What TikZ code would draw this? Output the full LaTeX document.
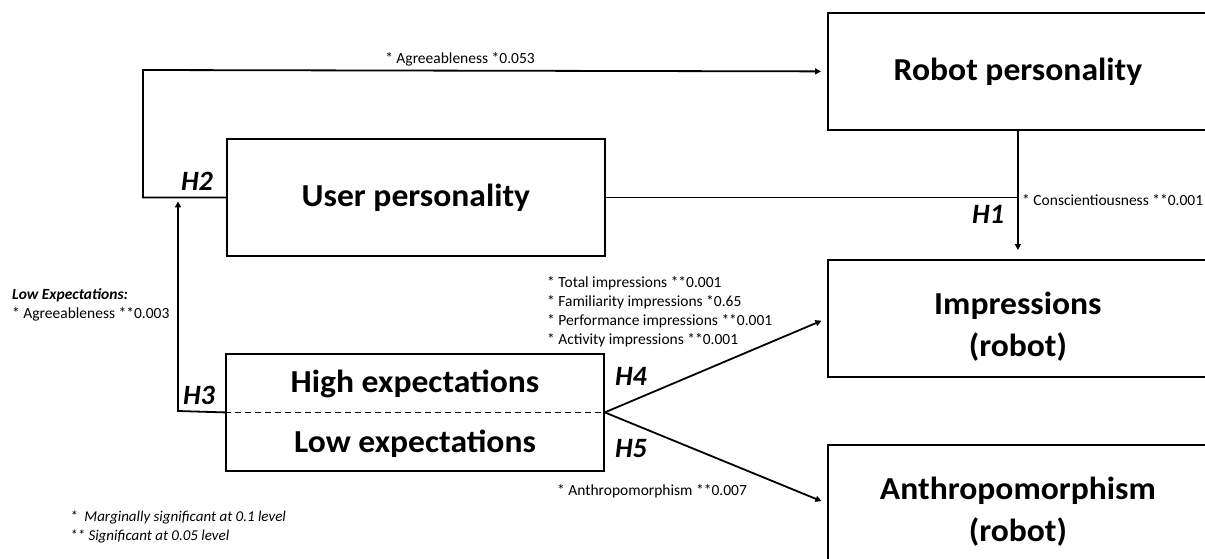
\documentclass[tikz,border=0pt]{standalone}
\usepackage{fontspec}
\setmainfont{Carlito}
\newfontfamily\boxfont[FakeStretch=1.05]{Carlito}
\usetikzlibrary{positioning, arrows.meta}

\begin{document}
\begin{tikzpicture}[x=1pt, y=-1pt,
        % --- Styles for the boxes ---
        box/.style={
            draw, line width=1.8pt, rectangle, minimum width=378pt, minimum height=117pt,
            anchor=north west, inner sep=0pt, align=center,
            font=\boxfont\bfseries\fontsize{32}{42}\selectfont
        },
        wide/.style={box, minimum width=380pt},
        twoline/.style={wide, text height=81pt},
        box_text/.style={font=\boxfont\bfseries\fontsize{32}{42}\selectfont, inner sep=0pt},
        % --- Styles for the labels ---
        hyp/.style={font=\bfseries\itshape\fontsize{28}{30}\selectfont, inner sep=0pt},
        note_style/.style={font=\fontsize{15.5}{19}\selectfont, align=left, inner sep=0pt},
        foot_style/.style={font=\itshape\fontsize{15}{19}\selectfont, align=left, inner sep=0pt},
        % --- Styles for the connectors ---
        link/.style={line width=1.8pt},
        arrow_style/.style={link, -{Triangle[length=6pt, width=6pt]}}
    ]

    \useasboundingbox (0,0) rectangle (1205,558);
    \clip (0,0) rectangle (1205,558);

    % --- Boxes ---
    \node[wide] (robot) at (827,12) {Robot personality};
    \node[box] (user) at (226,138) {User personality};
    \node[twoline] (impress) at (827,259) {Impressions\\(robot)};
    \node[twoline] (anthro) at (827,444) {Anthropomorphism\\(robot)};

    % --- Expectations box, split in two ---
    \node[box] (expect) at (225,353) {};
    \draw[line width=1.3pt, dash pattern=on 6pt off 4pt] (expect.west) -- (expect.east);
    \node[box_text, anchor=base] (high) at (415,392) {High expectations};
    \node[box_text, anchor=base] (low) at (415,452) {Low expectations};

    % --- H2: user personality -> robot personality ---
    \coordinate (h2_bend) at (143,70);
    \draw[arrow_style, shorten >=6pt] (user.west) -| (h2_bend) -- (robot.west);
    \node[note_style, anchor=base] (agree_lbl) at (460,63) {* Agreeableness *0.053};
    \node[hyp] (h2) at (197,181) {H2};

    % --- H1: user personality x robot personality -> impressions ---
    \draw[link] (user.east) -- (user.east -| robot.south);
    \draw[arrow_style, shorten >=9pt] (robot.south) -- (impress.north);
    \node[note_style, anchor=base west] (consc_lbl) at (1022,205) {* Conscientiousness **0.001};
    \node[hyp] (h1) at (988,214) {H1};

    % --- H3: expectations -> user personality ---
    \coordinate (h3_bend) at (178,411);
    \draw[arrow_style, shorten >=4pt] (expect.west) -- (h3_bend) -- (h3_bend |- user.west);
    \node[hyp] (h3) at (199,395) {H3};
    \node[note_style, anchor=north west] (low_lbl) at (12,288)
        {\textbf{\textit{Low Expectations:}}\\* Agreeableness **0.003};

    % --- H4 and H5: expectations -> impressions, anthropomorphism ---
    \draw[arrow_style, shorten >=6pt] (expect.east) -- (impress.west);
    \draw[arrow_style, shorten >=6pt] (expect.east) -- (anthro.west);
    \node[hyp] (h4) at (631,376) {H4};
    \node[hyp] (h5) at (631,449) {H5};
    \node[note_style, anchor=north west] (imp_lbl) at (547,276)
        {* Total impressions **0.001\\* Familiarity impressions *0.65\\
         * Performance impressions **0.001\\* Activity impressions **0.001};
    \node[note_style, anchor=base west] (anth_lbl) at (557,495) {* Anthropomorphism **0.007};

    % --- Footnote ---
    \node[foot_style, anchor=north west] (foot) at (70,511)
        {*\ \ Marginally significant at 0.1 level\\** Significant at 0.05 level};

\end{tikzpicture}
\end{document}
